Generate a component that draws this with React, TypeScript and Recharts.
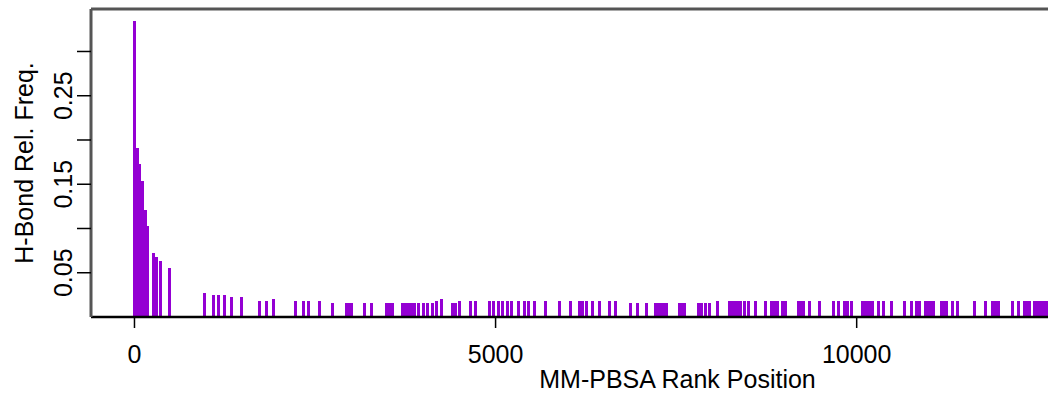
import { BarChart, Bar, XAxis, YAxis, ReferenceLine } from 'recharts'

// rank position of each H-bond
const RANKS = [
  3, 37, 72, 111, 150, 187, 259, 312, 360, 480,
  976, 1101, 1163, 1246, 1350, 1482, 1738, 1828, 1932,
  2229, 2340, 2416, 2561, 2748, 2935, 2970, 3005, 3185, 3288, 3489, 3531, 3572,
  3711, 3745, 3780, 3815, 3849, 3877, 3932, 4008, 4064, 4133, 4189, 4251,
  4403, 4445, 4500, 4652, 4721, 4915, 4971, 5040, 5095, 5165, 5220, 5317, 5400, 5455,
  5538, 5691, 5885, 6044, 6162, 6210, 6258, 6341,
  6445, 6577, 6667, 6868, 6971, 7089, 7214, 7255, 7297, 7338, 7373, 7546, 7581, 7615,
  7809, 7858, 7906, 7961, 8072, 8238, 8280, 8321, 8363, 8398, 8446, 8502,
  8598, 8737, 8820, 8862, 8903, 8972, 9014, 9194, 9228, 9263, 9346, 9485, 9678, 9748,
  9831, 9879, 9928, 10080, 10121, 10156, 10191, 10218, 10301, 10371, 10481, 10661,
  10758, 10827, 10869, 10952, 10993, 11028, 11063, 11174, 11208, 11243, 11333, 11402,
  11631, 11783, 11880, 11921, 11963, 12157, 12240, 12323, 12358, 12392,
  12461, 12496, 12531, 12565, 12600, 12635,
]

const FREQS = [
  0.335, 0.191, 0.173, 0.154, 0.121, 0.103, 0.0727, 0.0675, 0.0637, 0.055,
  0.0275, 0.0249, 0.0249, 0.0249, 0.0223, 0.0223, 0.0184, 0.0184, 0.0205,
  0.0184, 0.0184, 0.0184, 0.0184, 0.0162, 0.0162, 0.0162, 0.0162, 0.0162, 0.0162, 0.0162, 0.0162, 0.0162,
  0.0162, 0.0162, 0.0162, 0.0162, 0.0162, 0.0162, 0.0162, 0.0162, 0.0162, 0.0162, 0.0184, 0.0205,
  0.0162, 0.0162, 0.0184, 0.0184, 0.0184, 0.0184, 0.0184, 0.0184, 0.0184, 0.0184, 0.0184, 0.0184, 0.0184, 0.0184,
  0.0184, 0.0184, 0.0184, 0.0184, 0.0184, 0.0184, 0.0184, 0.0184,
  0.0184, 0.0184, 0.0184, 0.0162, 0.0162, 0.0162, 0.0162, 0.0162, 0.0162, 0.0162, 0.0162, 0.0162, 0.0162, 0.0162,
  0.0162, 0.0162, 0.0162, 0.0162, 0.0184, 0.0184, 0.0184, 0.0184, 0.0184, 0.0184, 0.0184, 0.0184,
  0.0184, 0.0184, 0.0184, 0.0184, 0.0184, 0.0184, 0.0184, 0.0184, 0.0184, 0.0184, 0.0184, 0.0184, 0.0184, 0.0184,
  0.0184, 0.0184, 0.0184, 0.0184, 0.0184, 0.0184, 0.0184, 0.0184, 0.0184, 0.0184, 0.0184, 0.0184,
  0.0184, 0.0184, 0.0184, 0.0184, 0.0184, 0.0184, 0.0184, 0.0184, 0.0184, 0.0184, 0.0184, 0.0184,
  0.0184, 0.0184, 0.0184, 0.0184, 0.0184, 0.0184, 0.0184, 0.0184, 0.0184, 0.0184,
  0.0184, 0.0184, 0.0184, 0.0184, 0.0184, 0.0184,
]

const X_TICKS = [0, 5000, 10000]
const Y_TICKS = [0.05, 0.1, 0.15, 0.2, 0.25, 0.3]
const Y_LABELED = [0.05, 0.15, 0.25]
const X_DOMAIN = [-602, 15640]
const Y_MAX = 0.348

const FONT = '"Liberation Sans", Arial, Helvetica, sans-serif'
const PURPLE = '#9400d3'
const LINE_W = 3

const data = RANKS.map((rank, i) => ({ rank, freq: FREQS[i] }))

// R draws type="h" lines, so keep every mark the same width whatever the band size.
// crispEdges stops seams where neighbouring lines overlap.
const HLine = (props: any) => {
  const { x, y, width, height } = props
  if (height <= 0) return <g />
  return (
    <rect
      x={x + width / 2 - LINE_W / 2}
      y={y}
      width={LINE_W}
      height={height}
      fill={PURPLE}
      shapeRendering="crispEdges"
    />
  )
}

const YTick = (props: any) => {
  const { y, payload } = props
  if (!Y_LABELED.includes(payload.value)) return <g />
  return (
    <text
      x={72}
      y={y}
      transform={`rotate(-90, 72, ${y})`}
      textAnchor="middle"
      fontSize={25}
      fontFamily={FONT}
      fill="#000"
    >
      {payload.value.toFixed(2)}
    </text>
  )
}

const XTick = (props: any) => {
  const { x, payload } = props
  return (
    <text x={x} y={363} textAnchor="middle" fontSize={25} fontFamily={FONT} fill="#000">
      {payload.value}
    </text>
  )
}

export default function App() {
  return (
    <div
      style={{
        position: 'fixed',
        top: 0,
        left: 0,
        width: 1048,
        height: 393,
        overflow: 'hidden',
        background: '#fff',
      }}
    >
      <BarChart
        width={1280}
        height={393}
        data={data}
        margin={{ top: 9, right: 16, bottom: 0, left: 0 }}
      >
        <XAxis
          type="number"
          dataKey="rank"
          domain={X_DOMAIN}
          ticks={X_TICKS}
          allowDataOverflow
          height={76}
          tickSize={11}
          tickLine={{ stroke: '#000', strokeWidth: 1.5 }}
          axisLine={{ stroke: '#000', strokeWidth: 2.5 }}
          tick={<XTick />}
          label={(p: any) => (
            <text
              x={p.viewBox.x + p.viewBox.width / 2}
              y={388}
              textAnchor="middle"
              fontSize={25}
              fontFamily={FONT}
              fill="#000"
            >
              MM-PBSA Rank Position
            </text>
          )}
        />
        <YAxis
          type="number"
          domain={[0, Y_MAX]}
          ticks={Y_TICKS}
          width={91}
          tickSize={14}
          tickLine={{ stroke: '#000', strokeWidth: 1.5 }}
          axisLine={{ stroke: '#555', strokeWidth: 3 }}
          tick={<YTick />}
          label={(p: any) => {
            const cy = p.viewBox.y + p.viewBox.height / 2
            return (
              <text
                x={33}
                y={cy}
                transform={`rotate(-90, 33, ${cy})`}
                textAnchor="middle"
                fontSize={25}
                fontFamily={FONT}
                fill="#000"
              >
                H-Bond Rel. Freq.
              </text>
            )
          }}
        />
        <Bar dataKey="freq" barSize={3} shape={HLine} isAnimationActive={false} />
        <ReferenceLine y={Y_MAX} stroke="#555" strokeWidth={3} />
      </BarChart>
    </div>
  )
}
